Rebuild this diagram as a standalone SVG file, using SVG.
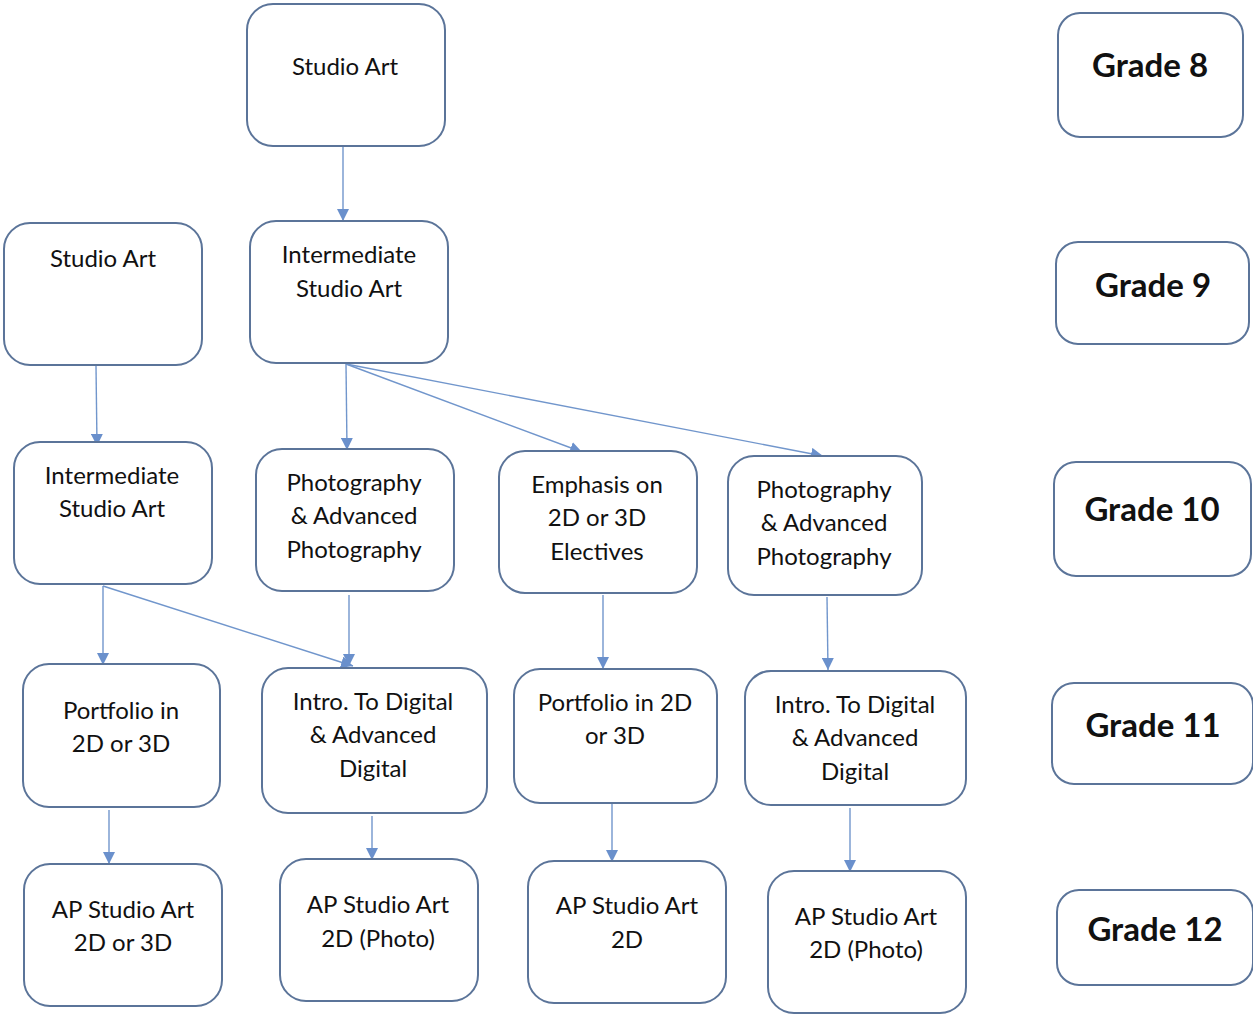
<svg xmlns="http://www.w3.org/2000/svg" width="1253" height="1015" viewBox="0 0 1253 1015">
<style>
.box{fill:#fff;stroke:#5b7499;stroke-width:2}
.t{font-family:Lato,"Open Sans","Liberation Sans",sans-serif;font-size:24px;fill:#111;text-anchor:middle}
.g{font-family:Lato,"Open Sans","Liberation Sans",sans-serif;font-size:33px;font-weight:bold;fill:#111;text-anchor:middle}
.c{fill:none;stroke:#7196cc;stroke-width:1.4;marker-end:url(#ah)}
</style>
<defs>
<marker id="ah" markerUnits="userSpaceOnUse" markerWidth="14" markerHeight="12" refX="12" refY="6" orient="auto">
<path d="M0,0 L12,6 L0,12 z" fill="#6a90cc"/>
</marker>
</defs>
<rect width="1253" height="1015" fill="#fff"/>
<g id="connectors">
<line class="c" x1="343" y1="147" x2="343" y2="221"/>
<line class="c" x1="96" y1="366" x2="97" y2="446"/>
<line class="c" x1="346" y1="364" x2="347" y2="450"/>
<line class="c" x1="346" y1="364" x2="582" y2="452"/>
<line class="c" x1="346" y1="364" x2="823" y2="456"/>
<line class="c" x1="103" y1="586" x2="103" y2="665"/>
<line class="c" x1="103" y1="586" x2="353" y2="666"/>
<line class="c" x1="349" y1="595" x2="349" y2="666"/>
<line class="c" x1="603" y1="595" x2="603" y2="669"/>
<line class="c" x1="827" y1="597" x2="828" y2="670"/>
<line class="c" x1="109" y1="810" x2="109" y2="864"/>
<line class="c" x1="372" y1="816" x2="372" y2="860"/>
<line class="c" x1="612" y1="804" x2="612" y2="862"/>
<line class="c" x1="850" y1="808" x2="850" y2="872"/>
</g>
<g id="n-studio-art-8"><rect class="box" x="247" y="4" width="198" height="142" rx="26"/><text class="t" x="345" y="75">Studio Art</text></g>
<g id="grade-8"><rect class="box" x="1058" y="13" width="185" height="124" rx="22"/><text class="g" x="1150" y="77">Grade 8</text></g>

<g id="n-studio-art-9"><rect class="box" x="4" y="223" width="198" height="142" rx="26"/><text class="t" x="103" y="267">Studio Art</text></g>
<g id="n-intermediate-9"><rect class="box" x="250" y="221" width="198" height="142" rx="26"/><text class="t" x="349" y="263">Intermediate</text><text class="t" x="349" y="297">Studio Art</text></g>
<g id="grade-9"><rect class="box" x="1056" y="242" width="193" height="102" rx="22"/><text class="g" x="1153" y="297">Grade 9</text></g>

<g id="n-intermediate-10"><rect class="box" x="14" y="442" width="198" height="142" rx="26"/><text class="t" x="112" y="484">Intermediate</text><text class="t" x="112" y="517">Studio Art</text></g>
<g id="n-photo-10a"><rect class="box" x="256" y="449" width="198" height="142" rx="26"/><text class="t" x="354" y="491">Photography</text><text class="t" x="354" y="524">&amp; Advanced</text><text class="t" x="354" y="558">Photography</text></g>
<g id="n-emphasis-10"><rect class="box" x="499" y="451" width="198" height="142" rx="26"/><text class="t" x="597" y="493">Emphasis on</text><text class="t" x="597" y="526">2D or 3D</text><text class="t" x="597" y="560">Electives</text></g>
<g id="n-photo-10b"><rect class="box" x="728" y="456" width="194" height="139" rx="26"/><text class="t" x="824" y="498">Photography</text><text class="t" x="824" y="531">&amp; Advanced</text><text class="t" x="824" y="565">Photography</text></g>
<g id="grade-10"><rect class="box" x="1054" y="462" width="197" height="114" rx="22"/><text class="g" x="1152" y="521">Grade 10</text></g>

<g id="n-portfolio-11a"><rect class="box" x="23" y="664" width="197" height="143" rx="26"/><text class="t" x="121" y="719">Portfolio in</text><text class="t" x="121" y="752">2D or 3D</text></g>
<g id="n-digital-11a"><rect class="box" x="262" y="668" width="225" height="145" rx="26"/><text class="t" x="373" y="710">Intro. To Digital</text><text class="t" x="373" y="743">&amp; Advanced</text><text class="t" x="373" y="777">Digital</text></g>
<g id="n-portfolio-11b"><rect class="box" x="514" y="669" width="203" height="134" rx="26"/><text class="t" x="615" y="711">Portfolio in 2D</text><text class="t" x="615" y="744">or 3D</text></g>
<g id="n-digital-11b"><rect class="box" x="745" y="671" width="221" height="134" rx="26"/><text class="t" x="855" y="713">Intro. To Digital</text><text class="t" x="855" y="746">&amp; Advanced</text><text class="t" x="855" y="780">Digital</text></g>
<g id="grade-11"><rect class="box" x="1052" y="683" width="201" height="101" rx="22"/><text class="g" x="1153" y="737">Grade 11</text></g>

<g id="n-ap-12a"><rect class="box" x="24" y="864" width="198" height="142" rx="26"/><text class="t" x="123" y="918">AP Studio Art</text><text class="t" x="123" y="951">2D or 3D</text></g>
<g id="n-ap-12b"><rect class="box" x="280" y="859" width="198" height="142" rx="26"/><text class="t" x="378" y="913">AP Studio Art</text><text class="t" x="378" y="947">2D (Photo)</text></g>
<g id="n-ap-12c"><rect class="box" x="528" y="861" width="198" height="142" rx="26"/><text class="t" x="627" y="914">AP Studio Art</text><text class="t" x="627" y="948">2D</text></g>
<g id="n-ap-12d"><rect class="box" x="768" y="871" width="198" height="142" rx="26"/><text class="t" x="866" y="925">AP Studio Art</text><text class="t" x="866" y="958">2D (Photo)</text></g>
<g id="grade-12"><rect class="box" x="1057" y="890" width="196" height="95" rx="22"/><text class="g" x="1155" y="941">Grade 12</text></g>
</svg>
